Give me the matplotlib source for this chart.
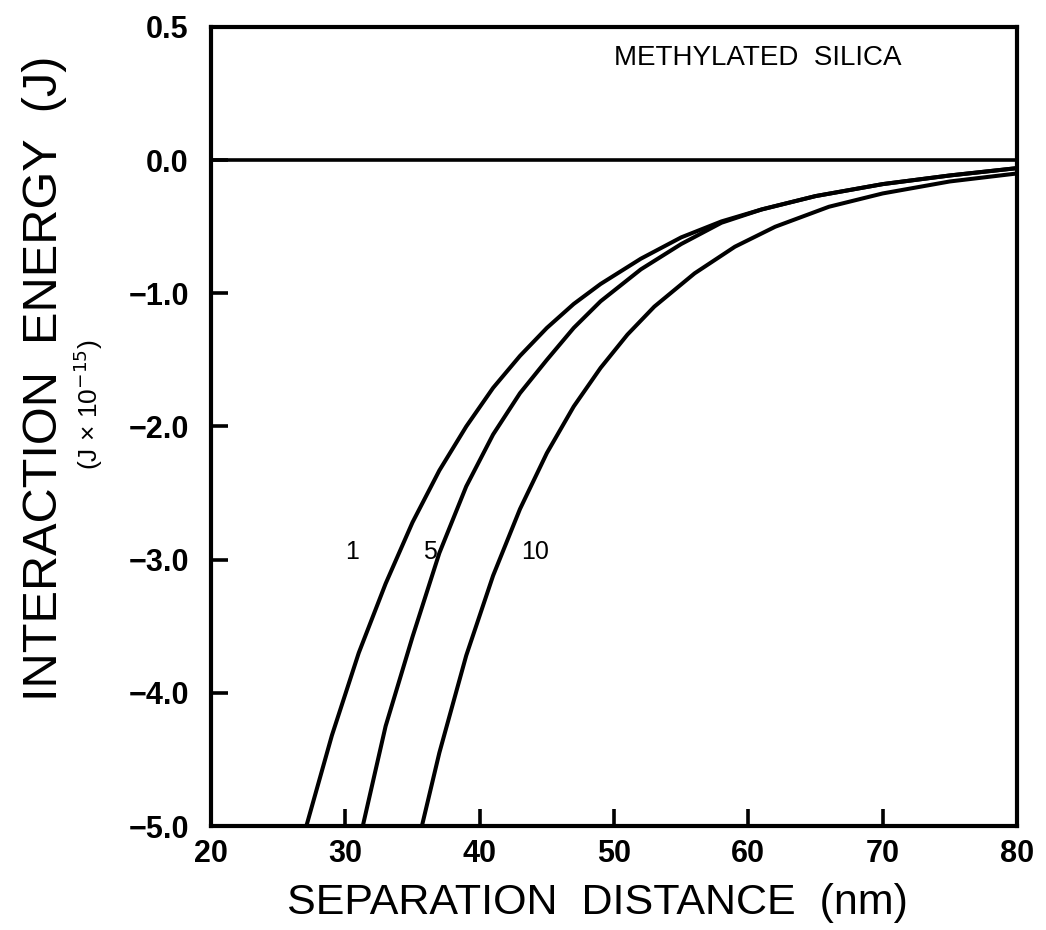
import matplotlib
matplotlib.use('Agg')
from matplotlib import pyplot as plt

# values (energy in units of 1e-15 J)
sep_1 = [27.1, 29.0, 31.0, 33.0, 35.0, 37.0, 39.0, 41.0, 43.0, 45.0, 47.0, 49.0, 52.0, 55.0, 58.0, 61.0, 65.0, 70.0, 75.0, 80.0]
energy_1 = [-5.0, -4.32, -3.70, -3.18, -2.72, -2.33, -2.00, -1.71, -1.47, -1.26, -1.08, -0.93, -0.74, -0.58, -0.46, -0.37, -0.27, -0.18, -0.115, -0.06]

sep_5 = [31.3, 33.0, 35.0, 37.0, 39.0, 41.0, 43.0, 45.0, 47.0, 49.0, 52.0, 55.0, 58.0, 61.0, 65.0, 70.0, 75.0, 80.0]
energy_5 = [-5.0, -4.25, -3.58, -2.95, -2.45, -2.06, -1.75, -1.50, -1.26, -1.06, -0.82, -0.63, -0.47, -0.37, -0.27, -0.18, -0.115, -0.06]

sep_10 = [35.7, 37.0, 39.0, 41.0, 43.0, 45.0, 47.0, 49.0, 51.0, 53.0, 56.0, 59.0, 62.0, 66.0, 70.0, 75.0, 80.0]
energy_10 = [-5.0, -4.45, -3.72, -3.12, -2.62, -2.20, -1.85, -1.56, -1.31, -1.10, -0.85, -0.65, -0.50, -0.35, -0.25, -0.16, -0.10]

curve_names = ['1', '5', '10']
label_x = [30.5, 36.3, 44.1]

x_ticks = [20, 30, 40, 50, 60, 70, 80]
# the top of the axis is stretched: 0.0 -> 0.5 takes the same height as one unit below 0
y_ticks = [1, 0, -1, -2, -3, -4, -5]
y_tick_labels = ['0.5', '0.0', '\u22121.0', '\u22122.0', '\u22123.0', '\u22124.0', '\u22125.0']

fig = plt.figure(figsize=(10.46, 9.30), dpi=100)
ax = fig.add_axes([0.2017, 0.1118, 0.7706, 0.8592])

for xs, ys in [(sep_1, energy_1), (sep_5, energy_5), (sep_10, energy_10)]:
    ax.plot(xs, ys, color='black', lw=2.9, solid_joinstyle='round', solid_capstyle='butt')

ax.axhline(0, color='black', lw=2.6)

for name, lx in zip(curve_names, label_x):
    ax.text(lx, -2.94, name, fontsize=18, family='Liberation Sans', ha='center', va='center')

ax.text(60.7, 0.77, 'METHYLATED  SILICA', fontsize=20, family='Liberation Sans',
        ha='center', va='center')

ax.set_xlim(20, 80)
ax.set_ylim(-5, 1)
ax.set_xticks(x_ticks)
ax.set_yticks(y_ticks)
ax.set_yticklabels(y_tick_labels)

for sp in ax.spines.values():
    sp.set_linewidth(3.0)

ax.tick_params(direction='in', length=12, width=2.6)
ax.tick_params(axis='y', pad=16)
ax.tick_params(axis='x', pad=9)
for lab in ax.get_xticklabels() + ax.get_yticklabels():
    lab.set_fontsize(22)
    lab.set_fontweight('bold')
    lab.set_family('Liberation Sans')

fig.text(45 / 1046, 1 - 378 / 930, 'INTERACTION  ENERGY  (J)', rotation=90, fontsize=35,
         family='Liberation Sans', ha='center', va='center')
fig.text(88 / 1046, 1 - 405 / 930, '(J \u00d7 10$^{-15}$)', rotation=90, fontsize=19,
         family='Liberation Sans', ha='center', va='center')
fig.text(597 / 1046, 1 - 903 / 930, 'SEPARATION  DISTANCE  (nm)', fontsize=31,
         family='Liberation Sans', ha='center', va='center')

fig.savefig('out.png', dpi=100)
